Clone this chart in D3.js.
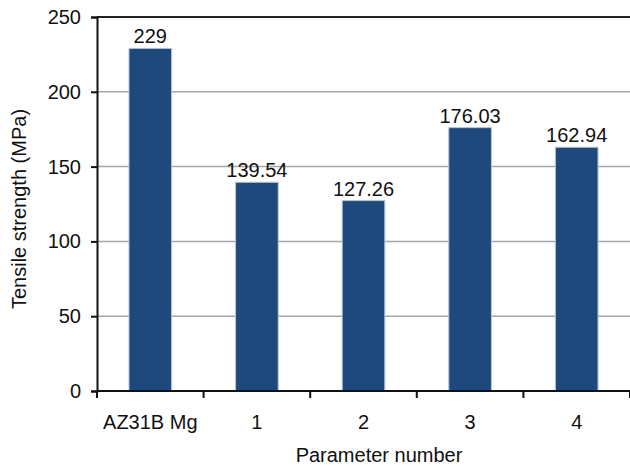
<!DOCTYPE html>
<html>
<head>
<meta charset="utf-8">
<script src="https://cdn.jsdelivr.net/npm/d3@7"></script>
<style>
  html, body { margin: 0; padding: 0; background: #fff; }
  text { font-family: "Liberation Sans", Arial, sans-serif; fill: #111; }
</style>
</head>
<body>
<svg id="chart" width="630" height="466"></svg>
<script>
// Tensile strength per parameter set
const categories = ["AZ31B Mg", "1", "2", "3", "4"];
const strengths = [229, 139.54, 127.26, 176.03, 162.94];
const valueLabels = ["229", "139.54", "127.26", "176.03", "162.94"];
const yTicks = [0, 50, 100, 150, 200, 250];

const svg = d3.select("#chart");
const margin = { left: 97, right: 0, top: 17, bottom: 75 };
const W = 630, H = 466;

const x = d3.scaleBand()
  .domain(categories)
  .range([margin.left, W - margin.right])
  .paddingInner(0.6)
  .paddingOuter(0.3);

const y = d3.scaleLinear()
  .domain([0, 250])
  .range([H - margin.bottom, margin.top]);

// horizontal gridlines
svg.append("g")
  .selectAll("line")
  .data(yTicks.filter(t => t > 0 && t < 250))
  .join("line")
  .attr("x1", margin.left).attr("x2", W)
  .attr("y1", d => y(d)).attr("y2", d => y(d))
  .attr("stroke", "#a6a6a6")
  .attr("stroke-width", 1.5);

// top frame line
svg.append("line")
  .attr("x1", margin.left).attr("x2", W)
  .attr("y1", y(250)).attr("y2", y(250))
  .attr("stroke", "#222")
  .attr("stroke-width", 2);

const rows = categories.map((c, i) => ({ c, v: strengths[i], label: valueLabels[i] }));

// bars
svg.append("g")
  .selectAll("rect")
  .data(rows)
  .join("rect")
  .attr("x", d => x(d.c))
  .attr("y", d => y(d.v))
  .attr("width", x.bandwidth())
  .attr("height", d => y(0) - y(d.v))
  .attr("fill", "#1f497d")
  .attr("stroke", "#b4c6de")
  .attr("stroke-width", 1);

// value labels
svg.append("g")
  .selectAll("text")
  .data(rows)
  .join("text")
  .attr("x", d => x(d.c) + x.bandwidth() / 2)
  .attr("y", d => y(d.v) - 5)
  .attr("text-anchor", "middle")
  .attr("font-size", 20)
  .text(d => d.label);

// y axis
const yAxis = svg.append("g")
  .attr("transform", `translate(${margin.left},0)`)
  .call(d3.axisLeft(y).tickValues(yTicks).tickSize(6).tickPadding(10).tickFormat(d3.format("d")));
yAxis.select(".domain").attr("stroke", "#111").attr("stroke-width", 2);
yAxis.selectAll(".tick line").attr("stroke", "#111").attr("stroke-width", 2);
yAxis.selectAll(".tick text").attr("font-size", 20).attr("fill", "#111")
  .attr("font-family", "Liberation Sans, Arial, sans-serif");

// x axis baseline with ticks at category boundaries
const step = x.step();
const gap = (step - x.bandwidth()) / 2;
const bounds = categories.map(c => x(c) - gap).concat([x(categories[categories.length - 1]) + x.bandwidth() + gap]);
svg.append("line")
  .attr("x1", margin.left).attr("x2", W)
  .attr("y1", y(0)).attr("y2", y(0))
  .attr("stroke", "#111").attr("stroke-width", 2);
svg.append("g")
  .selectAll("line")
  .data(bounds)
  .join("line")
  .attr("x1", d => d).attr("x2", d => d)
  .attr("y1", y(0)).attr("y2", y(0) + 7)
  .attr("stroke", "#111").attr("stroke-width", 2);

// category labels
svg.append("g")
  .selectAll("text")
  .data(categories)
  .join("text")
  .attr("x", d => x(d) + x.bandwidth() / 2)
  .attr("y", y(0) + 38)
  .attr("text-anchor", "middle")
  .attr("font-size", 20)
  .text(d => d);

// axis titles
svg.append("text")
  .attr("x", 379)
  .attr("y", 462)
  .attr("text-anchor", "middle")
  .attr("font-size", 20)
  .text("Parameter number");

svg.append("text")
  .attr("transform", `translate(26,209) rotate(-90)`)
  .attr("text-anchor", "middle")
  .attr("font-size", 20)
  .text("Tensile strength (MPa)");
</script>
</body>
</html>
